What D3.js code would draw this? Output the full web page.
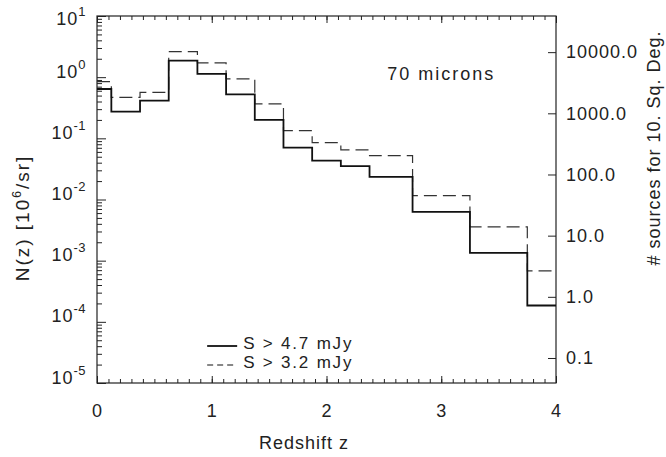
<!DOCTYPE html>
<html>
<head>
<meta charset="utf-8">
<script src="https://cdn.jsdelivr.net/npm/d3@7"></script>
<style>
  body { margin: 0; background: #fff; }
  text { font-family: "Liberation Sans", Arial, Helvetica, sans-serif; fill: #222; }
</style>
</head>
<body>
<div id="root"></div>
<script>
// redshift bin edges and N(z) per bin
const binEdges = [0, 0.125, 0.375, 0.625, 0.875, 1.125, 1.375, 1.625, 1.875, 2.125, 2.375, 2.75, 3.25, 3.75, 4.0];
const nzBright = [0.64, 0.273, 0.413, 1.86, 1.13, 0.525, 0.2, 0.0705, 0.0432, 0.035, 0.0234, 0.00627, 0.00134, 1.85e-4]; // S > 4.7 mJy
const nzFaint = [0.845, 0.469, 0.566, 2.61, 1.71, 0.935, 0.365, 0.134, 0.085, 0.0646, 0.052, 0.0116, 0.00357, 6.8e-4]; // S > 3.2 mJy
const seriesLabels = ["S > 4.7 mJy", "S > 3.2 mJy"];
const xTicks = [0, 1, 2, 3, 4];
const leftTicks = [1e-5, 1e-4, 1e-3, 1e-2, 1e-1, 1, 10];
const rightTicks = [0.1, 1, 10, 100, 1000, 10000];
const sqDegFactor = 3900; // 10^6/sr  ->  sources in 10 sq. deg.

const W = 666, H = 457;
const margin = { top: 16, right: 110, bottom: 74, left: 97 };
const width = W - margin.left - margin.right;
const height = H - margin.top - margin.bottom;

const svg = d3.select("#root").append("svg")
  .attr("width", W)
  .attr("height", H);

const g = svg.append("g")
  .attr("transform", "translate(" + margin.left + "," + margin.top + ")");

const x = d3.scaleLinear().domain([0, 4]).range([0, width]);
const y = d3.scaleLog().domain([1e-5, 10]).range([height, 0]);
const y2 = d3.scaleLog().domain([1e-5 * sqDegFactor, 10 * sqDegFactor]).range([height, 0]);

// minor ticks
const xMinor = d3.range(0, 40.5, 1).map(d => d / 10);
let yMinor = [];
for (let e = -5; e < 1; e++) {
  for (let m = 2; m <= 9; m++) yMinor.push(m * Math.pow(10, e));
}

const tickStyle = sel => {
  sel.select(".domain").remove();
  sel.selectAll("line").attr("stroke", "#222").attr("stroke-width", 1);
  sel.selectAll("text")
    .style("font-size", "18px")
    .style("letter-spacing", "1px")
    .attr("fill", "#222");
};

g.append("g").attr("transform", "translate(0," + height + ")")
  .call(d3.axisBottom(x).tickValues(xMinor).tickSizeInner(-4).tickSizeOuter(0).tickFormat(""))
  .call(tickStyle);
g.append("g").attr("transform", "translate(0," + height + ")")
  .call(d3.axisBottom(x).tickValues(xTicks).tickSizeInner(-7).tickSizeOuter(0).tickPadding(21).tickFormat(d3.format("d")))
  .call(tickStyle);
g.append("g")
  .call(d3.axisTop(x).tickValues(xMinor).tickSizeInner(-4).tickSizeOuter(0).tickFormat(""))
  .call(tickStyle);
g.append("g")
  .call(d3.axisTop(x).tickValues(xTicks).tickSizeInner(-7).tickSizeOuter(0).tickFormat(""))
  .call(tickStyle);

g.append("g")
  .call(d3.axisLeft(y).tickValues(yMinor).tickSizeInner(-5).tickSizeOuter(0).tickFormat(""))
  .call(tickStyle);
const yAx = g.append("g")
  .call(d3.axisLeft(y).tickValues(leftTicks).tickSizeInner(-9).tickSizeOuter(0).tickPadding(11).tickFormat(""))
  .call(tickStyle);

// 10^n labels with superscript exponents
yAx.selectAll(".tick text").each(function(d) {
  const t = d3.select(this);
  const cy = Math.max(y(d) - 6, 2);
  t.attr("dy", (cy - y(d) + 6) + "px");
  t.append("tspan").text("10");
  t.append("tspan").attr("dy", "-9px").style("font-size", "13px").style("letter-spacing", "0.5px")
    .text(Math.round(Math.log10(d)));
});

g.append("g").attr("transform", "translate(" + width + ",0)")
  .call(d3.axisRight(y2).tickValues(rightTicks).tickSizeInner(-8).tickSizeOuter(0).tickPadding(10).tickFormat(d3.format(".1f")))
  .call(tickStyle);

// frame
g.append("rect")
  .attr("width", width)
  .attr("height", height)
  .attr("fill", "none")
  .attr("stroke", "#222")
  .attr("stroke-width", 1.2);

// histograms
const stepLine = d3.line()
  .x(d => x(d[0]))
  .y(d => y(d[1]))
  .curve(d3.curveStepAfter);
const toSteps = vals => binEdges.map((e, i) => [e, vals[Math.min(i, vals.length - 1)]]);

g.append("path")
  .datum(toSteps(nzFaint))
  .attr("d", stepLine)
  .attr("fill", "none")
  .attr("stroke", "#333")
  .attr("stroke-width", 1.2)
  .attr("stroke-dasharray", "13,6");

g.append("path")
  .datum(toSteps(nzBright))
  .attr("d", stepLine)
  .attr("fill", "none")
  .attr("stroke", "#111")
  .attr("stroke-width", 1.8);

// annotation
g.append("text")
  .attr("x", x(2.53))
  .attr("y", 64)
  .style("font-size", "18px")
  .style("letter-spacing", "2px")
  .text("70 microns");

// legend
const legend = g.append("g").attr("transform", "translate(" + x(0.96) + "," + 330 + ")");
seriesLabels.forEach((lab, i) => {
  legend.append("line")
    .attr("x1", 0).attr("x2", 30)
    .attr("y1", i * 19).attr("y2", i * 19)
    .attr("stroke", "#111")
    .attr("stroke-width", i === 0 ? 1.8 : 1.2)
    .attr("stroke-dasharray", i === 0 ? null : "6,4");
  legend.append("text")
    .attr("x", 36)
    .attr("y", i * 19 + 3)
    .style("font-size", "17px")
    .style("letter-spacing", "1.8px")
    .text(lab);
});

// axis titles
svg.append("text")
  .attr("x", 304)
  .attr("y", 449)
  .attr("text-anchor", "middle")
  .style("font-size", "18px")
  .style("letter-spacing", "1px")
  .text("Redshift z");

const yl = svg.append("text")
  .attr("transform", "translate(29," + 218 + ") rotate(-90)")
  .attr("text-anchor", "middle")
  .style("font-size", "19px")
  .style("letter-spacing", "2px");
yl.append("tspan").text("N(z) [10");
yl.append("tspan").attr("dy", "-8px").style("font-size", "12px").text("6");
yl.append("tspan").attr("dy", "8px").text("/sr]");

svg.append("text")
  .attr("transform", "translate(660," + 148 + ") rotate(-90)")
  .attr("text-anchor", "middle")
  .style("font-size", "18px")
  .style("letter-spacing", "1px")
  .text("# sources for 10. Sq. Deg.");
</script>
</body>
</html>
